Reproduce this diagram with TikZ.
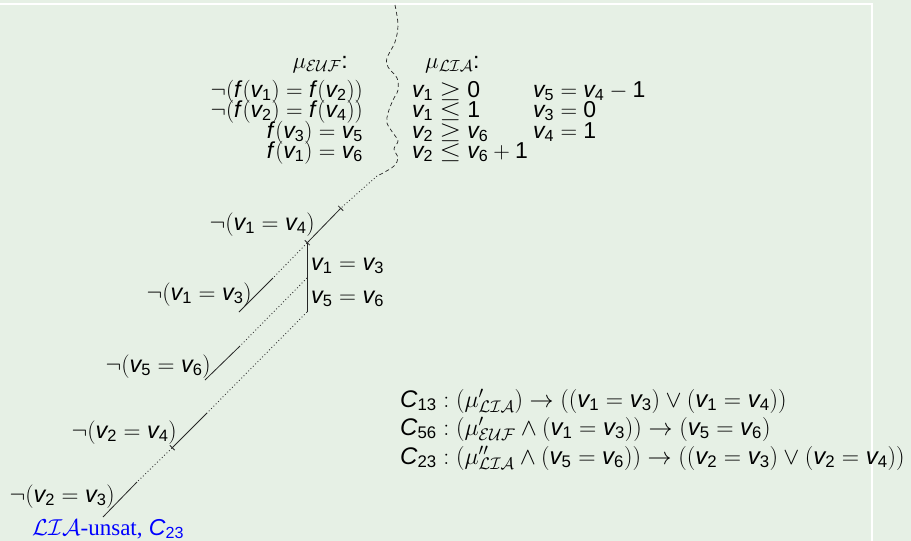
\RequirePackage{fix-cm}
\documentclass[tikz,border=0pt]{standalone}
\usepackage{fontspec}
\setmainfont{Liberation Sans}
\newfontfamily\lsans{Liberation Sans}[NFSSFamily=lsans]
\newfontfamily\serifface{Liberation Serif}
\DeclareMathAlphabet{\msi}{TU}{lsans}{m}{it}
\DeclareMathAlphabet{\msu}{TU}{lsans}{m}{n}
\usetikzlibrary{arrows.meta}
\newcommand\V[1]{\msi{v}_{\msu{#1}}}
\newcommand\Ff{\msi{f}\mkern1.5mu}
\newcommand\Nn[1]{\msu{#1}}
\newcommand\Cc[1]{\msi{C}_{\msu{#1}}}
\newcommand\Ge{\mathrel{\hbox{\scalebox{1.2}[1]{$\geq$}}}}
\newcommand\Le{\mathrel{\hbox{\scalebox{1.2}[1]{$\leq$}}}}
\definecolor{bgc}{RGB}{230,240,229}
\tikzset{
  big/.style={inner sep=0pt, font=\fontsize{23.5}{28}\selectfont},
  mu/.style={inner sep=0pt, font=\fontsize{23}{28}\selectfont},
  clause/.style={inner sep=0pt, font=\fontsize{24}{29}\selectfont},
  wig/.style={line width=0.7pt, dash pattern=on 4pt off 3pt, black!85},
  dots/.style={line width=0.9pt, dash pattern=on 0.9pt off 2.4pt, black!80},
  seg/.style={line width=0.8pt, black!85},
  barboth/.style={seg, {Bar[width=7pt,line width=0.8pt]}-{Bar[width=7pt,line width=0.8pt]}},
  barend/.style={seg, -{Bar[width=7pt,line width=0.8pt]}}
}
\begin{document}
\begin{tikzpicture}[x=1pt,y=-1pt]
\fill[bgc] (0,0) rectangle (911,541);
\useasboundingbox (0,0) rectangle (911,541);
\draw[white, line width=1.3pt] (0,4) -- (872,4) -- (872,541);

% mu_EUF column
\node[mu, anchor=base east] (he) at (348,68) {$\mu_{\mathcal{EUF}}$:};
\node[mu, anchor=base east] (e1) at (363,97) {$\neg(\Ff(\V1)=\Ff(\V2))$};
\node[mu, anchor=base east] (e2) at (363,117) {$\neg(\Ff(\V2)=\Ff(\V4))$};
\node[mu, anchor=base east] (e3) at (363,138) {$\Ff(\V3)=\V5$};
\node[mu, anchor=base east] (e4) at (363,158) {$\Ff(\V1)=\V6$};
% mu_LIA columns
\node[mu, anchor=base west] (hl) at (425,68) {$\mu_{\mathcal{LIA}}$:};
\node[mu, anchor=base west] (l1) at (412,97) {$\V1\Ge\Nn0$};
\node[mu, anchor=base west] (l2) at (412,117) {$\V1\Le\Nn1$};
\node[mu, anchor=base west] (l3) at (412,138) {$\V2\Ge\V6$};
\node[mu, anchor=base west] (l4) at (412,158) {$\V2\Le\V6+\Nn1$};
\node[mu, anchor=base west] (r1) at (533,97) {$\V5=\V4-\Nn1$};
\node[mu, anchor=base west] (r2) at (533,117) {$\V3=\Nn0$};
\node[mu, anchor=base west] (r3) at (533,138) {$\V4=\Nn1$};

% wiggly separator
\coordinate (top) at (395,5);
\coordinate (w) at (377,176);
\draw[wig] plot[smooth, tension=0.55] coordinates {(395,5) (398,25) (395,42) (387,58) (388,67) (397,78) (398,90) (393,100) (388,113) (387,123) (393,133) (398,141) (394,149) (398,158) (394,166) (383,173) (377,176)};

% tree points
\coordinate (a0) at (341,208);
\coordinate (a1) at (307,243);
\coordinate (b1) at (273,278);
\coordinate (b2) at (239,312);
\coordinate (m1) at (307,278);
\coordinate (m2) at (307,312);
\coordinate (c1) at (240,346);
\coordinate (c2) at (205,380);
\coordinate (d1) at (207,413);
\coordinate (d2) at (172,448);
\coordinate (f1) at (137,482);
\coordinate (f2) at (103,517);

\draw[dots] (w) -- (a0);
\draw[barboth] (a0) -- (a1);
\draw[seg] (a1) -- (m2);
\draw[dots] (a1) -- (b1);
\draw[seg] (b1) -- (b2);
\draw[dots] (m1) -- (c1);
\draw[seg] (c1) -- (c2);
\draw[dots] (m2) -- (d1);
\draw[barend] (d1) -- (d2);
\draw[dots] (d2) -- (f1);
\draw[seg] (f1) -- (f2);

% tree labels
\node[big, anchor=base east] (t14) at (315,230) {$\neg(\V1=\V4)$};
\node[big, anchor=base west] (t13) at (311,270) {$\V1=\V3$};
\node[big, anchor=base west] (t56) at (311,303) {$\V5=\V6$};
\node[big, anchor=base east] (n13) at (252,300) {$\neg(\V1=\V3)$};
\node[big, anchor=base east] (n56) at (211,372) {$\neg(\V5=\V6)$};
\node[big, anchor=base east] (n24) at (177,438) {$\neg(\V2=\V4)$};
\node[big, anchor=base east] (n23) at (115,502) {$\neg(\V2=\V3)$};
\node[mu, anchor=base west, text=blue] (uns) at (32,535) {$\mathcal{LIA}${\serifface-unsat,} $\Cc{23}$};

% clauses
\node[clause, anchor=base west] (c13) at (400,407) {$\Cc{13}:(\mu'_{\mathcal{LIA}})\rightarrow((\V1=\V3)\vee(\V1=\V4))$};
\node[clause, anchor=base west] (c56) at (400,435) {$\Cc{56}:(\mu'_{\mathcal{EUF}}\wedge(\V1=\V3))\rightarrow(\V5=\V6)$};
\node[clause, anchor=base west] (c23) at (400,464) {$\Cc{23}:(\mu''_{\mathcal{LIA}}\wedge(\V5=\V6))\rightarrow((\V2=\V3)\vee(\V2=\V4))$};
\end{tikzpicture}
\end{document}
